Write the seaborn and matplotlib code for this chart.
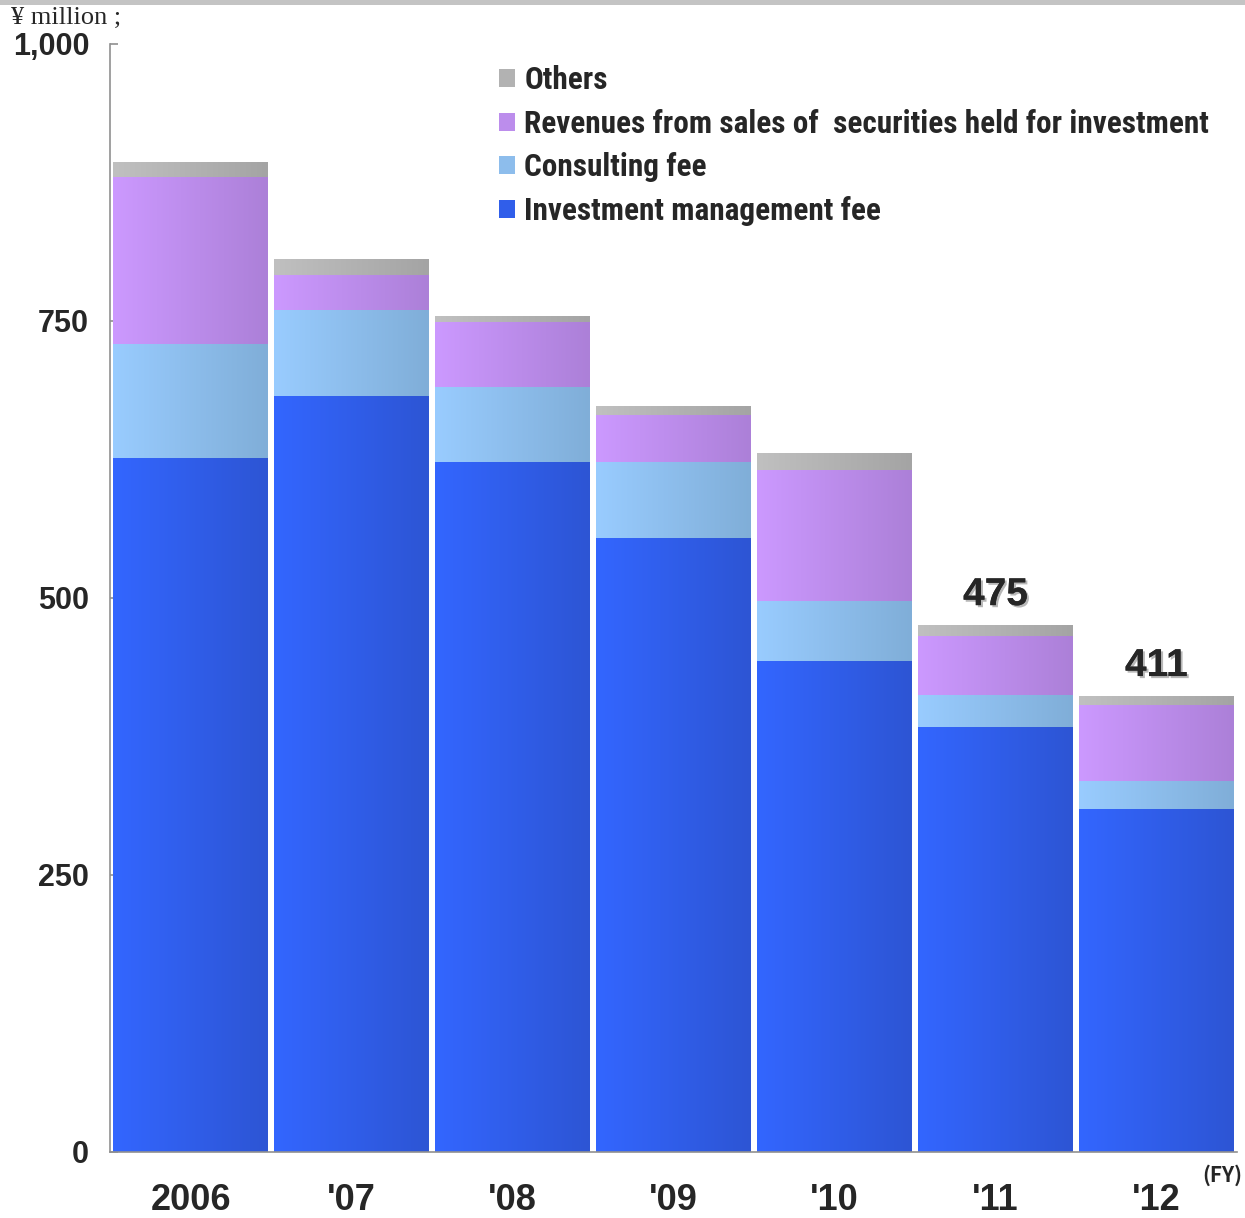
import numpy as np
import pandas as pd
import matplotlib
matplotlib.use("Agg")
import matplotlib.pyplot as plt
import matplotlib.patheffects as pe
from matplotlib.colors import LinearSegmentedColormap, to_rgb
from matplotlib.patches import Patch, Rectangle
from matplotlib import font_manager
import seaborn as sns

# Revenue breakdown by fiscal year (¥ million)
years = ["2006", "'07", "'08", "'09", "'10", "'11", "'12"]
investment_fee = [626, 682, 622, 554, 443, 383, 309]
consulting_fee = [102, 77, 68, 68, 54, 29, 26]
securities_sales = [151, 32, 58, 43, 118, 53, 68]
others = [14, 15, 6, 8, 16, 10, 8]
labelled = {"'11": 475, "'12": 411}

layers = [
    ("Investment management fee", investment_fee, "#3366FF", "#2D55D4"),
    ("Consulting fee", consulting_fee, "#99CCFF", "#80AED8"),
    ("Revenues from sales of  securities held for investment", securities_sales, "#CC99FF", "#AC80D8"),
    ("Others", others, "#C0C0C0", "#A4A4A4"),
]

sns.set_theme(style="white")
plt.rcParams["font.family"] = ["Liberation Sans", "DejaVu Sans"]

# narrow face for the legend when available
installed = {f.name for f in font_manager.fontManager.ttflist}
if "Roboto Condensed" in installed:
    legend_family, legend_size = ["Roboto Condensed", "DejaVu Sans"], 22.5
else:
    legend_family, legend_size = ["Noto Sans CJK JP", "DejaVu Sans"], 18

fig = plt.figure(figsize=(12.45, 12.18), dpi=100)
ax = fig.add_axes([0.0884, 0.0542, 0.9052, 0.9097])

df = pd.DataFrame({"year": years})
cum = np.zeros(len(years))
bounds = []
for name, vals, c0, c1 in layers:
    lo = cum.copy()
    cum = cum + np.array(vals, dtype=float)
    bounds.append((name, lo, cum.copy(), c0, c1))

# Draw cumulative bars from the tallest layer down, then paint each
# segment with a horizontal gradient clipped to its bar.
z = 2
grad = np.linspace(0, 1, 256).reshape(1, -1)
for name, lo, hi, c0, c1 in reversed(bounds):
    n_before = len(ax.patches)
    df["v"] = hi
    sns.barplot(data=df, x="year", y="v", color=c0, width=0.96,
                saturation=1, ax=ax, linewidth=0, zorder=z)
    new = ax.patches[n_before:]
    cmap = LinearSegmentedColormap.from_list(name, [c0, c1])
    for p, l in zip(new, lo):
        x0, w, h = p.get_x(), p.get_width(), p.get_height()
        p.set_visible(False)
        ax.imshow(grad, cmap=cmap, aspect="auto", extent=(x0, x0 + w, l, h),
                  origin="lower", zorder=z + 0.5, interpolation="bilinear")
    z += 1

ax.set_xlim(-0.5, len(years) - 0.5)
ax.set_ylim(0, 1000)
ax.set_yticks([0, 250, 500, 750, 1000])
ax.set_yticklabels(["0", "250", "500", "750", "1,000"])
ax.set_xlabel("")
ax.set_ylabel("")

for s in ["top", "right"]:
    ax.spines[s].set_visible(False)
for s in ["left", "bottom"]:
    ax.spines[s].set_color("#909090")
    ax.spines[s].set_linewidth(1.2)
    ax.spines[s].set_zorder(20)

ax.tick_params(axis="y", direction="in", length=6, width=1.2, color="#909090",
               labelsize=22, pad=15, left=True)
ax.tick_params(axis="x", length=0, labelsize=26, pad=22)
for t in ax.get_yticklabels():
    t.set_fontweight("bold")
for t in ax.get_xticklabels():
    t.set_fontweight("bold")

# Totals above the last two years
for i, y in enumerate(years):
    if y in labelled:
        ax.annotate(str(labelled[y]), (i, labelled[y]), xytext=(0, 22),
                    textcoords="offset points", ha="center", va="center",
                    fontsize=28, fontweight="bold", zorder=30,
                    path_effects=[pe.withSimplePatchShadow(offset=(1.5, -1.5),
                                                           shadow_rgbFace="#888888",
                                                           alpha=0.6), pe.Normal()])

handles = []
for name, vals, c0, c1 in reversed(layers):
    mid = np.mean([to_rgb(c0), to_rgb(c1)], axis=0)
    handles.append(Patch(facecolor=mid, edgecolor="none", label=name))
leg = ax.legend(handles=handles, loc="upper left", bbox_to_anchor=(0.32, 1.006),
                frameon=False, handlelength=0.52, handleheight=0.52,
                handletextpad=0.3, labelspacing=0.43,
                prop={"family": legend_family, "weight": "bold", "size": legend_size})

fig.text(0.009, 0.985, "¥ million ;", family="Liberation Serif", fontsize=19,
         ha="left", va="center")
fig.text(0.998, 0.035, "(FY)", family=["Noto Sans CJK JP", "DejaVu Sans"],
         fontweight="bold", fontsize=15, ha="right", va="center")

# thin grey band along the top edge
fig.patches.append(Rectangle((0, 1 - 5 / 1218), 1, 5 / 1218, transform=fig.transFigure,
                             facecolor="#C4C4C4", edgecolor="none", zorder=0))

fig.savefig("out.png", dpi=100)
